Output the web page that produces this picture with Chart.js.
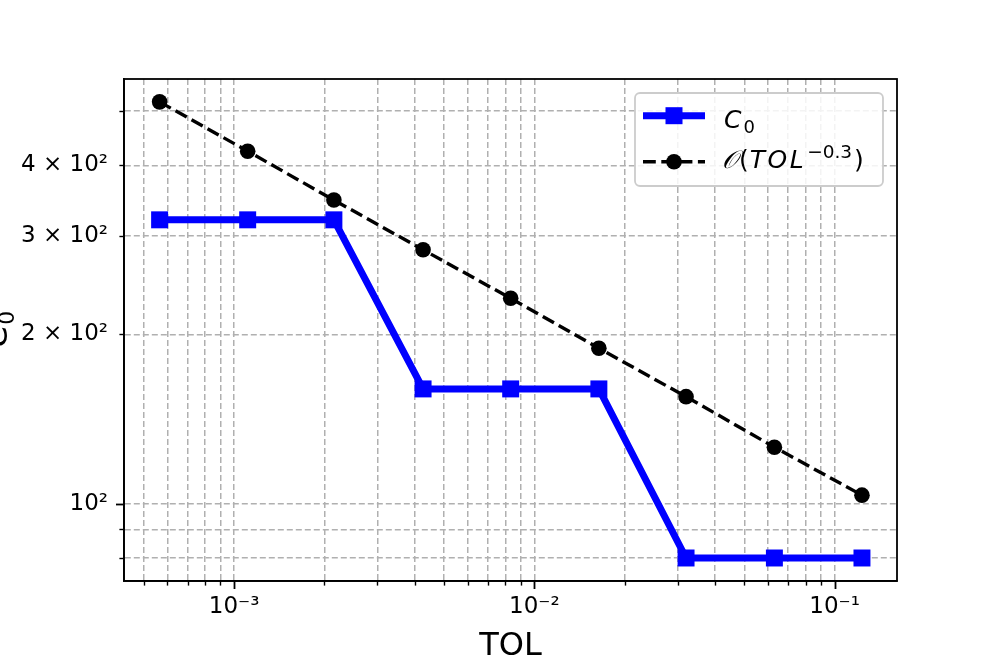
<!DOCTYPE html>
<html>
<head>
<meta charset="utf-8">
<script src="https://cdn.jsdelivr.net/npm/chart.js@4.4.0/dist/chart.umd.min.js"></script>
<style>
html, body { margin: 0; padding: 0; background: #fff; }
#wrap { width: 996px; height: 664px; }
</style>
</head>
<body>
<div id="wrap"><canvas id="myChart" width="996" height="664"></canvas></div>
<script>
// TOL values (x, log axis)
var tol = [0.000565, 0.00111, 0.00215, 0.00426, 0.00834, 0.0164, 0.0320, 0.0630, 0.1233];
// C_0 for each TOL
var c0 = [320, 320, 320, 160, 160, 160, 80, 80, 80];
// reference line O(TOL^-0.3)
var rate = [519, 424, 347, 283, 232, 189, 155, 126, 103.5];

// tick values + labels
var xTickVals = [5e-4, 6e-4, 7e-4, 8e-4, 9e-4, 1e-3, 2e-3, 3e-3, 4e-3, 5e-3, 6e-3, 7e-3, 8e-3, 9e-3,
                 1e-2, 2e-2, 3e-2, 4e-2, 5e-2, 6e-2, 7e-2, 8e-2, 9e-2, 1e-1];
var xMajor = [1e-3, 1e-2, 1e-1];
var xMajorLabels = ['10⁻³', '10⁻²', '10⁻¹'];
var yTickVals = [80, 90, 100, 200, 300, 400, 500];
var yMajor = [100];
var yTickLabels = ['', '', '10²', '2 × 10²', '3 × 10²', '4 × 10²', ''];

var FONT = "'DejaVu Sans', sans-serif";

function pts(xs, ys) {
    var out = [];
    for (var i = 0; i < xs.length; i++) out.push({x: xs[i], y: ys[i]});
    return out;
}

//ticks, frame, legend and axis titles
var decor = {
    id: 'decor',
    afterDraw: function(chart) {
        var c = chart.ctx, a = chart.chartArea;
        var sx = chart.scales.x, sy = chart.scales.y;
        c.save();
        c.strokeStyle = '#000';
        // tick marks
        sx.ticks.forEach(function(t) {
            var major = xMajor.indexOf(t.value) >= 0;
            var px = Math.round(sx.getPixelForValue(t.value)) + 0.5;
            c.lineWidth = major ? 1.8 : 1.4;
            c.beginPath();
            c.moveTo(px, a.bottom);
            c.lineTo(px, a.bottom + (major ? 8 : 4.6));
            c.stroke();
        });
        sy.ticks.forEach(function(t) {
            var major = yMajor.indexOf(t.value) >= 0;
            var py = Math.round(sy.getPixelForValue(t.value)) + 0.5;
            c.lineWidth = major ? 1.8 : 1.4;
            c.beginPath();
            c.moveTo(a.left, py);
            c.lineTo(a.left - (major ? 8 : 4.6), py);
            c.stroke();
        });
        // frame
        c.lineWidth = 1.8;
        c.strokeRect(a.left, a.top, a.right - a.left, a.bottom - a.top);

        // x title
        c.fillStyle = '#000';
        c.font = '32px ' + FONT;
        c.textAlign = 'center';
        c.textBaseline = 'alphabetic';
        c.fillText('TOL', (a.left + a.right) / 2, 655);

        // y title C_0 (rotated)
        c.save();
        c.translate(7, 330);
        c.rotate(-Math.PI / 2);
        c.textAlign = 'left';
        c.font = 'italic 32px ' + FONT;
        var wC = c.measureText('C').width;
        c.fillText('C', -17, 0);
        c.font = '22px ' + FONT;
        c.fillText('0', -17 + wC, 7);
        c.restore();

        // legend box
        var lx = 635, ly = 93, lw = 248, lh = 93, r = 5;
        c.beginPath();
        c.moveTo(lx + r, ly);
        c.arcTo(lx + lw, ly, lx + lw, ly + lh, r);
        c.arcTo(lx + lw, ly + lh, lx, ly + lh, r);
        c.arcTo(lx, ly + lh, lx, ly, r);
        c.arcTo(lx, ly, lx + lw, ly, r);
        c.closePath();
        c.fillStyle = 'rgba(255,255,255,0.85)';
        c.fill();
        c.strokeStyle = '#cccccc';
        c.lineWidth = 1.8;
        c.stroke();

        var ds = chart.data.datasets;
        // entry 1
        var y1 = 115.7;
        c.strokeStyle = ds[0].borderColor;
        c.lineWidth = ds[0].borderWidth;
        c.beginPath(); c.moveTo(643, y1); c.lineTo(705, y1); c.stroke();
        c.fillStyle = ds[0].backgroundColor;
        c.fillRect(674 - 8.5, y1 - 8.5, 17, 17);
        // entry 2
        var y2 = 161.7;
        c.strokeStyle = ds[1].borderColor;
        c.lineWidth = ds[1].borderWidth;
        c.setLineDash(ds[1].borderDash);
        c.beginPath(); c.moveTo(643, y2); c.lineTo(705, y2); c.stroke();
        c.setLineDash([]);
        c.fillStyle = ds[1].backgroundColor;
        c.beginPath(); c.arc(674, y2, ds[1].pointRadius, 0, Math.PI * 2); c.fill();

        // legend texts
        c.fillStyle = '#000';
        c.textAlign = 'left';
        c.textBaseline = 'alphabetic';
        var x = 724;
        c.font = 'italic 25px ' + FONT;
        c.fillText('C', x, 128);
        x += c.measureText('C').width + 2;
        c.font = '18px ' + FONT;
        c.fillText('0', x, 133);

        x = 722;
        var b = 168;
        c.font = 'italic 25px ' + FONT;
        c.fillText('𝒪', x, b);
        x += c.measureText('𝒪').width + 1;
        c.font = '25px ' + FONT;
        c.fillText('(', x, b);
        x += c.measureText('(').width + 1;
        c.font = 'italic 25px ' + FONT;
        ['T', 'O', 'L'].forEach(function(ch) {
            c.fillText(ch, x, b);
            x += c.measureText(ch).width + 2.5;
        });
        x += 1;
        c.font = '18.5px ' + FONT;
        c.fillText('−0.3', x, b - 10);
        x += c.measureText('−0.3').width + 2;
        c.font = '25px ' + FONT;
        c.fillText(')', x, b);
        c.restore();
    }
};

var ctx = document.getElementById('myChart').getContext('2d');
var myChart = new Chart(ctx, {
    type: 'scatter',
    data: {
        datasets: [{
            label: 'C0',
            data: pts(tol, c0),
            showLine: true,
            borderColor: '#0000ff',
            backgroundColor: '#0000ff',
            borderWidth: 7,
            borderJoinStyle: 'round',
            pointStyle: 'rect',
            pointRadius: 12,
            pointHoverRadius: 12,
            pointBorderWidth: 0,
            order: 1
        }, {
            label: 'O(TOL^-0.3)',
            data: pts(tol, rate),
            showLine: true,
            borderColor: '#000000',
            backgroundColor: '#000000',
            borderWidth: 3.4,
            borderDash: [12.8, 5.5],
            pointStyle: 'circle',
            pointRadius: 7.8,
            pointHoverRadius: 7.8,
            pointBorderWidth: 0,
            order: 0
        }]
    },
    options: {
        responsive: false,
        animation: false,
        devicePixelRatio: 1,
        layout: { padding: { top: 79, right: 99, bottom: 0, left: 0 } },
        plugins: { legend: { display: false }, tooltip: { enabled: false } },
        scales: {
            x: {
                type: 'logarithmic',
                min: 4.30e-4,
                max: 0.1613,
                afterBuildTicks: function(s) {
                    s.ticks = xTickVals.map(function(v) { return {value: v, major: xMajor.indexOf(v) >= 0}; });
                },
                afterFit: function(s) { s.height = 83; },
                ticks: {
                    autoSkip: false,
                    maxRotation: 0,
                    minRotation: 0,
                    padding: 12,
                    color: '#000',
                    font: { family: FONT, size: 23 },
                    callback: function(v, i) {
                        var k = xMajor.indexOf(xTickVals[i]);
                        return k >= 0 ? xMajorLabels[k] : '';
                    }
                },
                grid: { color: '#b0b0b0', lineWidth: 1.5, drawTicks: false },
                border: { display: true, color: '#000', width: 1.8, dash: [6, 3] }
            },
            y: {
                type: 'logarithmic',
                min: 72.8,
                max: 570,
                afterBuildTicks: function(s) {
                    s.ticks = yTickVals.map(function(v) { return {value: v, major: yMajor.indexOf(v) >= 0}; });
                },
                afterFit: function(s) { s.width = 124; },
                ticks: {
                    autoSkip: false,
                    padding: 16,
                    color: '#000',
                    font: { family: FONT, size: 23 },
                    callback: function(v, i) { return yTickLabels[i]; }
                },
                grid: { color: '#b0b0b0', lineWidth: 1.5, drawTicks: false },
                border: { display: true, color: '#000', width: 1.8, dash: [6, 3] }
            }
        }
    },
    plugins: [decor]
});
</script>
</body>
</html>
